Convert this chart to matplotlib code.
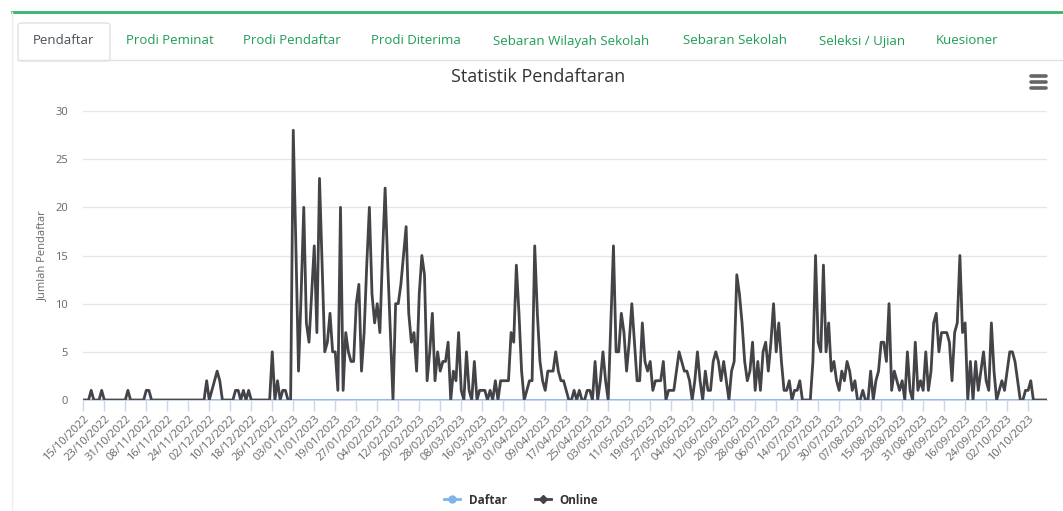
import matplotlib
matplotlib.use("Agg")
import matplotlib.pyplot as plt
from matplotlib.lines import Line2D
from matplotlib.patches import FancyBboxPatch
import pandas as pd

# daily registrations, 15/10/2022 .. 17/10/2023
online = [
    0, 0, 0, 1, 0, 0, 0, 1, 0, 0,
    0, 0, 0, 0, 0, 0, 0, 1, 0, 0,
    0, 0, 0, 0, 1, 1, 0, 0, 0, 0,
    0, 0, 0, 0, 0, 0, 0, 0, 0, 0,
    0, 0, 0, 0, 0, 0, 0, 2, 0, 1,
    2, 3, 2, 0, 0, 0, 0, 0, 1, 1,
    0, 1, 0, 1, 0, 0, 0, 0, 0, 0,
    0, 0, 5, 0, 2, 0, 1, 1, 0, 0,
    28, 16, 3, 11, 20, 8, 6, 11, 16, 7,
    23, 14, 5, 6, 9, 5, 5, 1, 20, 1,
    7, 5, 4, 4, 10, 12, 3, 7, 14, 20,
    11, 8, 10, 7, 15, 22, 14, 7, 0, 10,
    10, 12, 15, 18, 9, 6, 7, 3, 11, 15,
    13, 2, 5, 9, 2, 5, 3, 4, 4, 6,
    0, 3, 2, 7, 1, 0, 5, 1, 0, 4,
    0, 1, 1, 1, 0, 1, 0, 2, 0, 2,
    2, 2, 2, 7, 6, 14, 9, 3, 0, 1,
    2, 2, 16, 9, 4, 2, 1, 3, 3, 3,
    5, 3, 2, 2, 1, 0, 0, 1, 0, 1,
    0, 0, 1, 1, 0, 4, 0, 2, 5, 2,
    0, 8, 16, 5, 5, 9, 7, 3, 6, 10,
    6, 2, 2, 8, 4, 3, 4, 1, 2, 2,
    2, 4, 0, 1, 1, 1, 3, 5, 4, 3,
    3, 2, 0, 2, 5, 2, 0, 3, 1, 1,
    4, 5, 4, 2, 4, 2, 0, 3, 4, 13,
    11, 8, 4, 2, 3, 6, 1, 4, 1, 5,
    6, 3, 6, 10, 5, 8, 4, 1, 1, 2,
    0, 1, 1, 2, 0, 0, 0, 0, 4, 15,
    6, 5, 14, 5, 8, 3, 4, 2, 1, 3,
    2, 4, 3, 1, 2, 0, 0, 1, 0, 0,
    3, 0, 2, 3, 6, 6, 4, 10, 1, 3,
    2, 1, 2, 0, 5, 1, 0, 6, 1, 2,
    1, 5, 1, 3, 8, 9, 5, 7, 7, 7,
    6, 2, 7, 8, 15, 7, 8, 0, 4, 0,
    4, 1, 3, 5, 2, 1, 8, 3, 0, 1,
    2, 1, 3, 5, 5, 4, 2, 0, 0, 1,
    1, 2, 0, 0, 0, 0, 0, 0,
]
daftar = [0] * len(online)  # Daftar stays at zero the whole period
start_date = "2022-10-15"
tick_step = 8
tabs = ["Pendaftar", "Prodi Peminat", "Prodi Pendaftar", "Prodi Diterima",
        "Sebaran Wilayah Sekolah", "Sebaran Sekolah", "Seleksi / Ujian", "Kuesioner"]
tab_x = [63, 170, 292, 416, 571, 735, 862, 967]

dates = pd.date_range(start_date, periods=len(online), freq="D")
labels = [d.strftime("%d/%m/%Y") for d in dates]
x = list(range(len(online)))

W, H = 1063, 511
fig = plt.figure(figsize=(W / 100, H / 100), dpi=100)
plt.rcParams["font.family"] = ["Open Sans", "DejaVu Sans"]

def fx(px):
    return px / W

def fy(py):
    return 1 - py / H

# card / tab strip
fig.add_artist(Line2D([fx(12), fx(1063)], [fy(12), fy(12)], color="#2fb86a", lw=2))
fig.add_artist(Line2D([fx(12), fx(12)], [fy(12), fy(511)], color="#eeeeee", lw=1))
fig.add_artist(Line2D([fx(18), fx(1063)], [fy(60.5), fy(60.5)], color="#dee2e6", lw=1))
fig.add_artist(FancyBboxPatch((fx(18), fy(61)), fx(92), 38 / H,
                              boxstyle="round,pad=0,rounding_size=0.004",
                              transform=fig.transFigure, fc="white", ec="#dee2e6", lw=1))
for i, (t, tx) in enumerate(zip(tabs, tab_x)):
    fig.text(fx(tx), fy(41), t, ha="center", va="center", fontsize=9.5,
             color="#495057" if i == 0 else "#1f9d55")

# hamburger icon
for yy in (76, 82, 88):
    fig.add_artist(Line2D([fx(1031), fx(1046)], [fy(yy), fy(yy)], color="#666666",
                          lw=2.6, solid_capstyle="round"))

fig.text(fx(538), fy(77), "Statistik Pendaftaran", ha="center", va="center",
         fontsize=13, color="#333333")

left, right, top, bottom = 83.3, 1046.5, 111, 400
ax = fig.add_axes([fx(left), fy(bottom), fx(right - left), (bottom - top) / H])
ax.plot(x, daftar, color="#7cb5ec", lw=2)
ax.plot(x, online, color="#434348", lw=2)

ax.set_xlim(0, len(online) - 1)
ax.set_ylim(0, 30)
ax.set_yticks(range(0, 31, 5))
ax.yaxis.grid(True, color="#e6e6e6", lw=1)
ax.set_axisbelow(True)
ax.tick_params(axis="y", length=0, labelsize=8, labelcolor="#666666", pad=11)
ax.set_ylabel("Jumlah Pendaftar", fontsize=8, color="#666666", labelpad=5)

ticks = x[::tick_step]
ax.set_xticks(ticks)
ax.set_xticklabels(labels[::tick_step], rotation=45, ha="right",
                   rotation_mode="anchor", fontsize=8, color="#666666")
ax.tick_params(axis="x", length=8, color="#ccd6eb", width=1, pad=2)

for s in ("top", "right", "left"):
    ax.spines[s].set_visible(False)
ax.spines["bottom"].set_color("#ccd6eb")
ax.patch.set_alpha(0)

handles = [
    Line2D([0], [0], color="#7cb5ec", lw=2, marker="o", markersize=5),
    Line2D([0], [0], color="#434348", lw=2, marker="D", markersize=4.5),
]
leg = fig.legend(handles, ["Daftar", "Online"], loc="center", ncol=2,
                 bbox_to_anchor=(fx(521), fy(500)), frameon=False,
                 handlelength=1.2, columnspacing=2.0, handletextpad=0.6)
for t in leg.get_texts():
    t.set_fontsize(8.5)
    t.set_fontweight("bold")
    t.set_color("#333333")

fig.savefig("out.png", dpi=100, facecolor="white")
